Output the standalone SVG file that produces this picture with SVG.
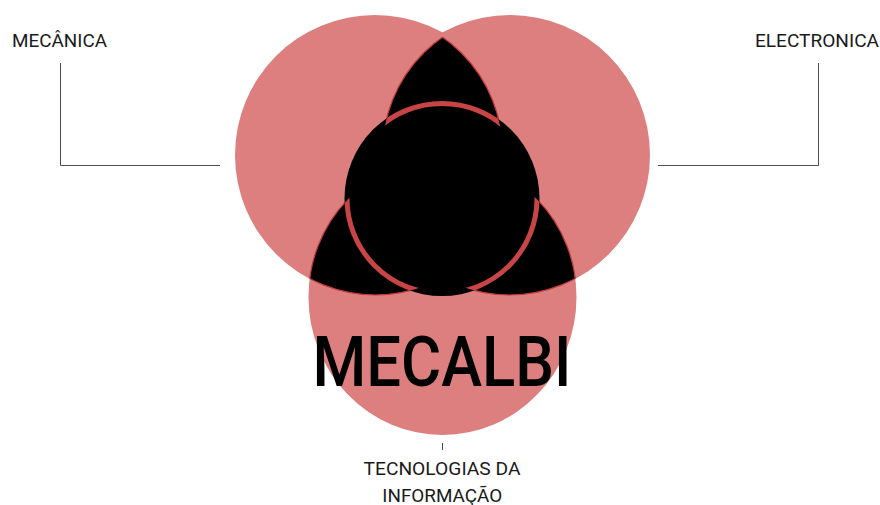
<svg xmlns="http://www.w3.org/2000/svg" width="880" height="505" viewBox="0 0 880 505">
  <style>
    .disc { fill: #dc7f7e; }
    .lens { fill: #000; stroke: #c23a3a; stroke-width: 1.2; }
    .edge { fill: none; stroke: #c23a3a; stroke-width: 1.2; }
    .ring { fill: none; stroke: #c94444; stroke-width: 5; }
    .label { font-family: "Roboto", "Liberation Sans", sans-serif; font-size: 19px; fill: #1a1a1a; }
    .brand { font-family: "Roboto", "Liberation Sans", sans-serif; font-size: 71px; font-weight: 500; fill: #000; }
    .lead { fill: none; stroke: #4d4d4d; stroke-width: 1; }
  </style>
  <defs>
    <clipPath id="cB"><ellipse cx="442.5" cy="297" rx="134" ry="138"/></clipPath>
    <clipPath id="tL"><circle cx="362.5" cy="152" r="140"/></clipPath>
    <clipPath id="tR"><circle cx="522.5" cy="152" r="140"/></clipPath>
    <clipPath id="bL"><circle cx="375.5" cy="155" r="140"/></clipPath>
    <clipPath id="bR"><circle cx="509.5" cy="155" r="140"/></clipPath>
  </defs>

  <g id="node-mecanica">
    <circle class="disc" cx="375" cy="155" r="140"/>
    <text class="label" x="12" y="47" textLength="95" lengthAdjust="spacingAndGlyphs">MECÂNICA</text>
  </g>
  <g id="node-electronica">
    <circle class="disc" cx="510" cy="155" r="140"/>
    <text class="label" x="755" y="47" textLength="124" lengthAdjust="spacingAndGlyphs">ELECTRONICA</text>
  </g>
  <g id="node-ti">
    <ellipse class="disc" cx="442.5" cy="297" rx="134" ry="138"/>
    <text class="label" x="442" y="475" text-anchor="middle" textLength="157" lengthAdjust="spacingAndGlyphs">TECNOLOGIAS DA</text>
    <text class="label" x="442.3" y="502" text-anchor="middle" textLength="120" lengthAdjust="spacingAndGlyphs">INFORMAÇÃO</text>
  </g>

  <g id="intersections">
    <g clip-path="url(#tL)"><circle class="lens" cx="522.5" cy="152" r="140"/></g>
    <g clip-path="url(#tR)"><circle class="edge" cx="362.5" cy="152" r="140"/></g>
    <g clip-path="url(#bL)"><ellipse class="lens" cx="442.5" cy="297" rx="134" ry="138"/></g>
    <g clip-path="url(#cB)"><circle class="edge" cx="375.5" cy="155" r="140"/></g>
    <g clip-path="url(#bR)"><ellipse class="lens" cx="442.5" cy="297" rx="134" ry="138"/></g>
    <g clip-path="url(#cB)"><circle class="edge" cx="509.5" cy="155" r="140"/></g>
  </g>

  <g id="node-core">
    <circle cx="442" cy="198.5" r="97.5" fill="#000"/>
    <g clip-path="url(#tL)"><g clip-path="url(#tR)"><circle class="ring" cx="442" cy="198.5" r="95"/></g></g>
    <g clip-path="url(#bL)"><g clip-path="url(#cB)"><circle class="ring" cx="442" cy="198.5" r="95"/></g></g>
    <g clip-path="url(#bR)"><g clip-path="url(#cB)"><circle class="ring" cx="442" cy="198.5" r="95"/></g></g>
  </g>

  <g id="node-brand">
    <text class="brand" x="442" y="386" text-anchor="middle" textLength="259" lengthAdjust="spacingAndGlyphs">MECALBI</text>
  </g>

  <g id="connectors">
    <polyline class="lead" points="60.5,63 60.5,165.5 220,165.5"/>
    <polyline class="lead" points="818.5,63 818.5,165.5 658,165.5"/>
    <line class="lead" x1="442.5" y1="443" x2="442.5" y2="450"/>
  </g>
</svg>
